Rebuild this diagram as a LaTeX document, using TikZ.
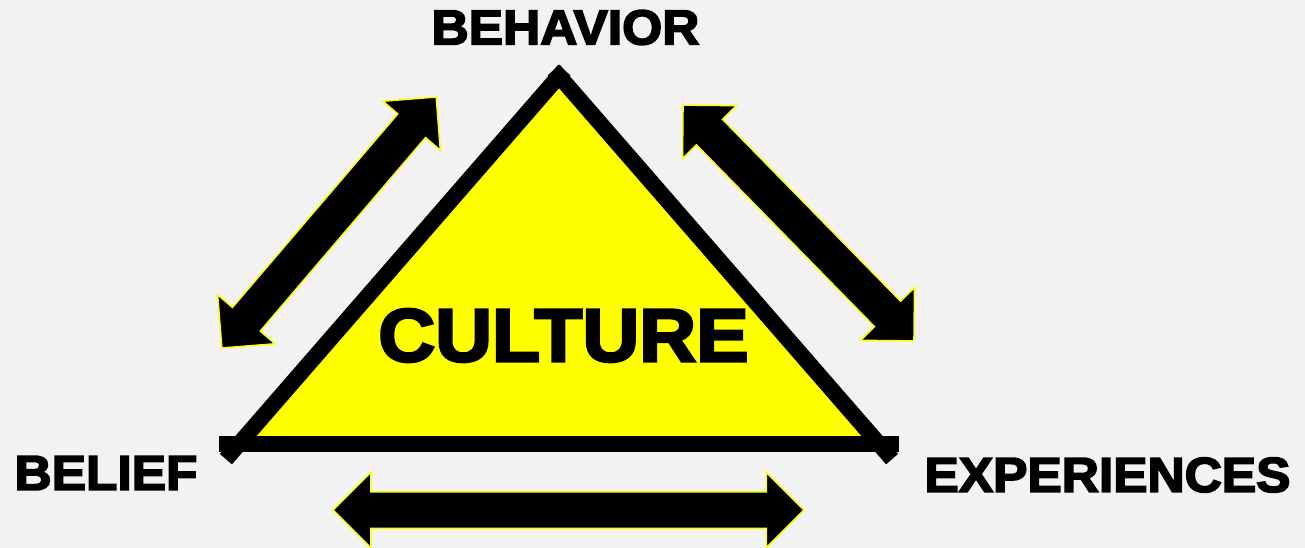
\documentclass[tikz,border=0pt]{standalone}
\usepackage{fontspec}
\setsansfont{Liberation Sans}[BoldFeatures={FakeBold=3.5,FakeStretch=1.05}]
\usepackage{tikz}
\usetikzlibrary{shapes.arrows}
\definecolor{bggray}{HTML}{F2F2F2}
\definecolor{culyellow}{HTML}{FFFF00}

\begin{document}
\begin{tikzpicture}[x=1pt,y=-1pt,thick,
  label node/.style={inner sep=0pt,font=\sffamily\bfseries\fontsize{49}{49}\selectfont},
  big node/.style={inner sep=0pt,font=\sffamily\bfseries\fontsize{75}{75}\selectfont},
  arrow node/.style={double arrow,double arrow tip angle=90,double arrow head extend=19.5pt,
    text height=35pt,text depth=0pt,inner sep=0pt,minimum width=0pt,
    fill=black,draw=culyellow,line width=1.5pt},
  side line/.style={line width=16pt,line cap=butt,shorten <=-20pt,shorten >=-8pt},
  base line/.style={line width=16pt,line cap=butt,shorten <=-20pt,shorten >=-20pt}]

  \path[use as bounding box,fill=bggray] (0,0) rectangle (1305,548);

  \coordinate (top) at (559,76);
  \coordinate (left) at (239,444);
  \coordinate (right) at (879,444);

  \fill[culyellow] (top) -- (left) -- (right) -- cycle;
  \path[draw=black]
    (left) edge [side line] (top)
    (right) edge [side line] (top)
    (left) edge [base line] (right)
    ;

  \node[label node] (1) at (565.5,27.5) {BEHAVIOR};
  \node[label node] (2) at (106,473) {BELIEF};
  \node[label node] (3) at (1107.5,475) {EXPERIENCES};
  \node[big node] (4) at (563.5,335.5) {CULTURE};

  \node[arrow node,minimum height=330pt,rotate=49.5] (12) at (329,222.5) {};
  \node[arrow node,minimum height=330pt,rotate=-45.6] (13) at (798.5,223) {};
  \node[arrow node,minimum height=471pt] (23) at (568.5,510) {};

\end{tikzpicture}
\end{document}
